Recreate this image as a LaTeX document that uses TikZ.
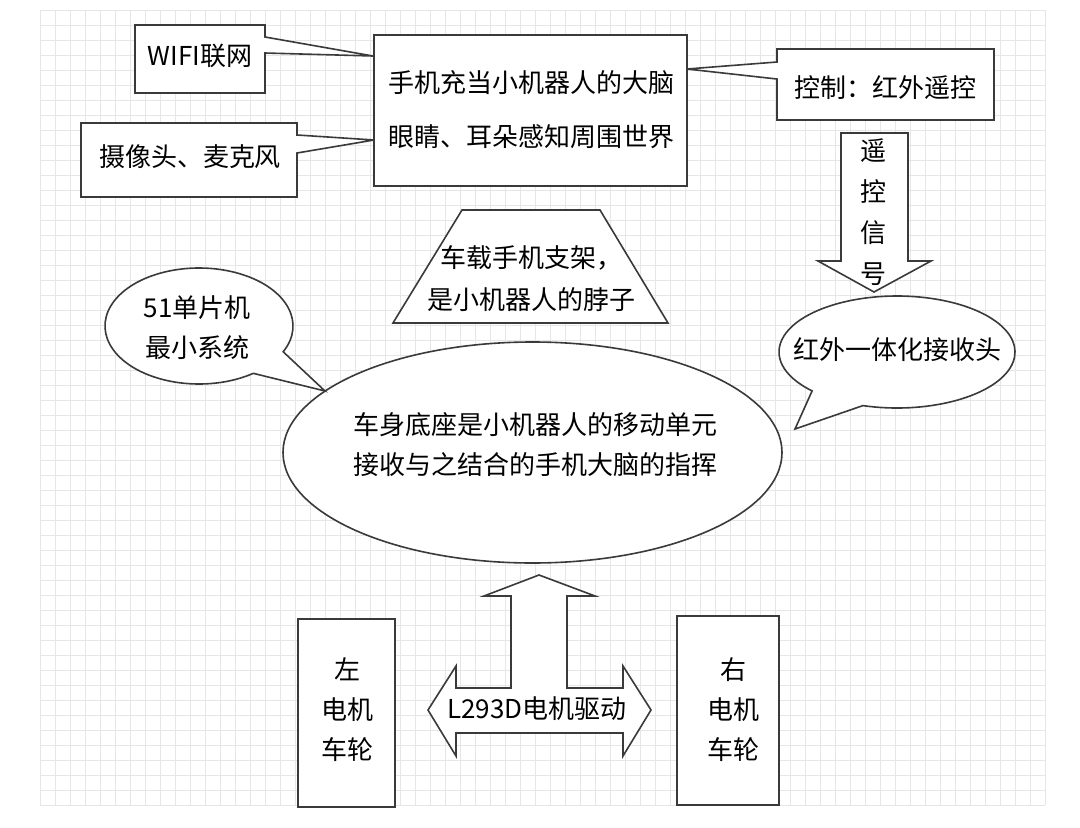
\documentclass[tikz,border=0pt]{standalone}
\usepackage{fontspec}
\newfontfamily\cjk{Noto Sans CJK SC}
\usetikzlibrary{shapes.geometric}
\definecolor{gridc}{HTML}{E6E6E6}
\definecolor{edge}{HTML}{3A3A3A}
\tikzset{
  gridline/.style={draw=gridc, line width=1pt},
  shapeline/.style={draw=edge, line width=1.6pt, fill=white, line join=miter},
  txt/.style={font=\cjk\fontsize{26}{40}\selectfont, align=center, inner sep=0pt, text=black},
}
\begin{document}
\begin{tikzpicture}[x=1pt,y=-1pt]
\useasboundingbox[fill=white] (0,0) rectangle (1080,828);
% grid
\foreach \x in {40,55,...,1046} \draw[gridline] (\x,10) -- (\x,805);
\foreach \y in {10,25,...,806} \draw[gridline] (40,\y) -- (1045,\y);

% callouts (drawn below main box)
\draw[shapeline] (135,25) -- (265,25) -- (265,37) -- (373,56) -- (265,53) -- (265,93) -- (135,93) -- cycle;
\node[txt] (wifi) at (200,56) {WIFI联网};
\draw[shapeline] (81,123) -- (297,123) -- (297,135) -- (374,140) -- (297,153) -- (297,197) -- (81,197) -- cycle;
\node[txt] (cam) at (190,157) {摄像头、麦克风};
\draw[shapeline] (777,49) -- (994,49) -- (994,120) -- (777,120) -- (777,79) -- (687,69) -- (777,62) -- cycle;
\node[txt] (ctrl) at (885,88) {控制：红外遥控};

% main box
\node[shapeline, rectangle, minimum width=313pt, minimum height=151pt, inner sep=0pt] (brain) at (530.5,110.5) {};
\node[txt, font=\cjk\fontsize{26}{54}\selectfont] (braintxt) at (531,110) {手机充当小机器人的大脑\\ 眼睛、耳朵感知周围世界};

% down arrow
\draw[shapeline] (841,133) -- (908,133) -- (908,261) -- (931,261) -- (874,292) -- (818,261) -- (841,261) -- cycle;
\node[txt, font=\cjk\fontsize{26}{41}\selectfont] (sig) at (873,212) {遥\\控\\信\\号};

% trapezoid
\draw[shapeline] (462,210) -- (600,210) -- (668,323) -- (393,323) -- cycle;
\node[txt, font=\cjk\fontsize{26}{42}\selectfont] (neck) at (531,279) {车载手机支架，\\是小机器人的脖子};

% big ellipse
\node[shapeline, ellipse, minimum width=499pt, minimum height=221pt, inner sep=0pt] (base) at (532.5,452.5) {};
\node[txt] (basetxt) at (535,445) {车身底座是小机器人的移动单元\\接收与之结合的手机大脑的指挥};

% 51 bubble
\draw[shapeline] (199,326) ++(-26.4:94pt and 58pt) arc[start angle=-26.4, end angle=305.3, x radius=94pt, y radius=58pt] -- (325,391) -- cycle;
\node[txt] (mcu) at (197,328) {51单片机\\最小系统};

% IR receiver bubble
\draw[shapeline] (897,352) ++(253.2:118pt and 56pt) arc[start angle=253.2, end angle=584, x radius=118pt, y radius=56pt] -- (795,429) -- cycle;
\node[txt] (ir) at (897,350) {红外一体化接收头};

% T-shaped arrow
\draw[shapeline] (539,575) -- (595,596) -- (567,596) -- (567,688) -- (623,688) -- (623,666) -- (651,710) -- (623,756) -- (623,733) -- (456,733) -- (456,756) -- (428,710) -- (456,666) -- (456,688) -- (511,688) -- (511,596) -- (484,596) -- cycle;
\node[txt] (drv) at (537,709) {L293D电机驱动};

% wheel boxes
\node[shapeline, rectangle, minimum width=97pt, minimum height=188pt, inner sep=0pt] (left) at (346.5,713) {};
\node[txt] (lefttxt) at (347,710) {左\\电机\\车轮};
\node[shapeline, rectangle, minimum width=102pt, minimum height=189pt, inner sep=0pt] (right) at (728,710.5) {};
\node[txt] (righttxt) at (733,710) {右\\电机\\车轮};
\end{tikzpicture}
\end{document}
